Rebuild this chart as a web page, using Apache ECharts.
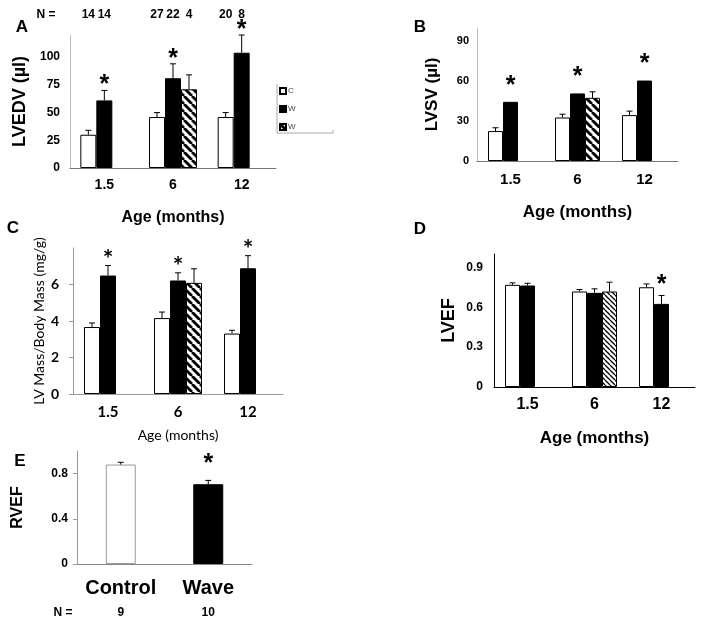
<!DOCTYPE html>
<html><head><meta charset="utf-8">
<script src="https://cdn.jsdelivr.net/npm/echarts@6/dist/echarts.min.js"></script>
<style>html,body{margin:0;padding:0;background:#fff}#c{width:704px;height:627px}</style>
</head><body><div id="c"></div>
<script>
// ---------------- DATA ----------------
const ageCats = ['1.5', '6', '12'];
const groupNames = ['Control', 'Wave', 'Wave 2'];

// A: LVEDV (µl)
const lvedvControl = [30, 46, 46];
const lvedvControlErr = [4, 4, 4];
const lvedvWave = [61, 81, 104];
const lvedvWaveErr = [9, 13, 16];
const lvedvWave2 = [null, 71, null];
const lvedvWave2Err = [null, 13, null];
const lvedvWaveSig = [true, true, true];
const nControl = [14, 27, 20];
const nWave = [14, 22, 8];
const nWave2 = [null, 4, null];

// B: LVSV (µl)
const lvsvControl = [22.5, 32.7, 34.5];
const lvsvControlErr = [2.5, 2.5, 3];
const lvsvWave = [44.5, 50.8, 60.5];
const lvsvWaveErr = [null, null, null];
const lvsvWave2 = [null, 47.5, null];
const lvsvWave2Err = [null, 4.5, null];
const lvsvWaveSig = [true, true, true];

// C: LV Mass/Body Mass (mg/g)
const massControl = [3.67, 4.16, 3.31];
const massControlErr = [0.22, 0.33, 0.18];
const massWave = [6.49, 6.22, 6.89];
const massWaveErr = [0.55, 0.42, 0.69];
const massWave2 = [null, 6.09, null];
const massWave2Err = [null, 0.77, null];
const massWaveSig = [true, true, true];

// D: LVEF
const lvefControl = [0.768, 0.718, 0.75];
const lvefControlErr = [0.015, 0.015, 0.025];
const lvefWave = [0.763, 0.708, 0.625];
const lvefWaveErr = [0.017, 0.03, 0.063];
const lvefWave2 = [null, 0.718, null];
const lvefWave2Err = [null, 0.07, null];
const lvefWaveSig = [false, false, true];

// E: RVEF
const rvefCats = ['Control', 'Wave'];
const rvefVals = [0.88, 0.706];
const rvefErr = [0.02, 0.034];
const rvefSig = [false, true];
const rvefN = [9, 10];

// ---------------- STYLE ----------------
const F = '"Liberation Sans", Arial, sans-serif';
const FC = 'Lato, "Open Sans", sans-serif';

function hatch(p, lw) {
  const c = document.createElement('canvas');
  c.width = p; c.height = p;
  const ctx = c.getContext('2d');
  ctx.fillStyle = '#fff'; ctx.fillRect(0, 0, p, p);
  ctx.strokeStyle = '#000'; ctx.lineWidth = lw;
  for (let k = -1; k <= 1; k++) {
    ctx.beginPath(); ctx.moveTo(k * p, 0); ctx.lineTo(k * p + p, p); ctx.stroke();
  }
  return c;
}
const hatchBig = hatch(8, 2.8);
const hatchSmall = hatch(5, 1.3);

function styleFor(kind, pattern) {
  if (kind === 0) return { color: '#fff', borderColor: '#000', borderWidth: 1 };
  if (kind === 1) return { color: '#000', borderColor: '#000', borderWidth: 1 };
  return { color: { image: pattern, repeat: 'repeat' }, borderColor: '#000', borderWidth: 1 };
}

const grids = [
  { left: 70, top: 35, width: 206, height: 133 },
  { left: 477, top: 28, width: 201, height: 133 },
  { left: 73, top: 248, width: 210, height: 146 },
  { left: 494, top: 254, width: 201, height: 133 },
  { left: 77, top: 451, width: 175, height: 113 }
];

const series = [];

function overlay(gi, items, nSlots, bw, opt) {
  return {
    type: 'custom', xAxisIndex: gi, yAxisIndex: gi, z: 10, silent: true, clip: false,
    data: items.map(it => [it.c, it.v]),
    renderItem: function (params, api) {
      const it = items[params.dataIndex];
      const base = api.coord([it.c, it.v]);
      const x = base[0] + (it.s - (nSlots - 1) / 2) * bw;
      const ch = [];
      let topY = base[1];
      if (it.e != null) {
        const t = api.coord([it.c, it.v + it.e])[1];
        ch.push({ type: 'line', shape: { x1: x, y1: base[1], x2: x, y2: t }, style: { stroke: '#000', lineWidth: 1 } });
        ch.push({ type: 'line', shape: { x1: x - 3, y1: t, x2: x + 3, y2: t }, style: { stroke: '#000', lineWidth: 1 } });
        topY = t;
      }
      if (it.sig) {
        ch.push({ type: 'text', style: { text: '*', x: x, y: topY - opt.starOffset + 6, align: 'center', verticalAlign: 'middle',
          fontSize: 25, fontWeight: 'bold', fontFamily: opt.font, fill: '#000' } });
      }
      if (it.n != null && opt.nOffset) {
        ch.push({ type: 'text', style: { text: String(it.n), x: x, y: params.coordSys.y - opt.nOffset, align: 'center', verticalAlign: 'middle',
          fontSize: 12, fontWeight: 'bold', fontFamily: F, fill: '#000' } });
      }
      return { type: 'group', children: ch };
    }
  };
}

function addPanel(gi, groups, bw, pattern, opt) {
  const items = [];
  groups.forEach((g, s) => {
    series.push({
      type: 'bar', name: groupNames[s], xAxisIndex: gi, yAxisIndex: gi,
      data: g.vals, barWidth: bw, barGap: '0%', itemStyle: styleFor(s, pattern), silent: true
    });
    g.vals.forEach((v, c) => {
      if (v == null) return;
      items.push({ c, s, v, e: g.errs[c], sig: g.sig ? g.sig[c] : false, n: g.n ? g.n[c] : null });
    });
  });
  series.push(overlay(gi, items, groups.length, bw, opt));
}

addPanel(0, [
  { vals: lvedvControl, errs: lvedvControlErr, n: nControl },
  { vals: lvedvWave, errs: lvedvWaveErr, n: nWave, sig: lvedvWaveSig },
  { vals: lvedvWave2, errs: lvedvWave2Err, n: nWave2 }
], 16, hatchBig, { starOffset: 11, font: F, nOffset: 20 });

addPanel(1, [
  { vals: lvsvControl, errs: lvsvControlErr },
  { vals: lvsvWave, errs: lvsvWaveErr, sig: lvsvWaveSig },
  { vals: lvsvWave2, errs: lvsvWave2Err }
], 15, hatchBig, { starOffset: 22, font: F });

addPanel(2, [
  { vals: massControl, errs: massControlErr },
  { vals: massWave, errs: massWaveErr, sig: massWaveSig },
  { vals: massWave2, errs: massWave2Err }
], 16, hatchBig, { starOffset: 12, font: FC });

addPanel(3, [
  { vals: lvefControl, errs: lvefControlErr },
  { vals: lvefWave, errs: lvefWaveErr, sig: lvefWaveSig },
  { vals: lvefWave2, errs: lvefWave2Err }
], 15, hatchSmall, { starOffset: 16, font: F });

// E
series.push({
  type: 'bar', name: 'RVEF', xAxisIndex: 4, yAxisIndex: 4, barWidth: 30, silent: true,
  data: rvefVals.map((v, i) => ({ value: v, itemStyle: i === 0 ? { color: '#fff', borderColor: '#999', borderWidth: 1 } : { color: '#000', borderColor: '#000', borderWidth: 1 } }))
});
series.push(overlay(4, rvefVals.map((v, i) => ({ c: i, s: 0, v, e: rvefErr[i], sig: rvefSig[i], n: null })), 1, 30, { starOffset: 22, font: F }));

function xAx(gi, cats, o) {
  return {
    type: 'category', gridIndex: gi, data: cats,
    axisTick: { show: false },
    axisLine: { lineStyle: { color: o.lineColor, width: 1 } },
    axisLabel: Object.assign({ interval: 0, color: '#000', fontWeight: 'bold', fontFamily: o.font, fontSize: o.fs, margin: o.margin }, o.label || {}),
    name: o.name, nameLocation: 'middle', nameGap: o.nameGap,
    nameTextStyle: { color: '#000', fontFamily: o.font, fontSize: o.nameFs, fontWeight: o.nameWeight || 'bold' }
  };
}
function yAx(gi, o) {
  return {
    type: 'value', gridIndex: gi, min: 0, max: o.max, interval: o.interval,
    splitLine: { show: false },
    axisLine: { show: true, lineStyle: { color: o.lineColor, width: 1 } },
    axisTick: { show: !!o.tick, length: 4, lineStyle: { color: o.lineColor } },
    axisLabel: { color: '#000', fontWeight: 'bold', fontFamily: o.font, fontSize: o.fs, margin: o.margin, showMaxLabel: false },
    name: o.name, nameLocation: 'middle', nameGap: o.nameGap, nameRotate: 90,
    nameTextStyle: { color: '#000', fontFamily: o.font, fontSize: o.nameFs, fontWeight: o.nameWeight || 'bold' }
  };
}

const xAxes = [
  xAx(0, ageCats, { lineColor: '#777', font: F, fs: 14, margin: 10, name: 'Age (months)', nameGap: 42, nameFs: 16 }),
  xAx(1, ageCats, { lineColor: '#777', font: F, fs: 15, margin: 11, name: 'Age (months)', nameGap: 43, nameFs: 17 }),
  xAx(2, ageCats, { lineColor: '#999', font: FC, fs: 15, margin: 11, name: 'Age (months)', nameGap: 34, nameFs: 14, nameWeight: 'normal' }),
  xAx(3, ageCats, { lineColor: '#000', font: F, fs: 16, margin: 10, name: 'Age (months)', nameGap: 43, nameFs: 17 }),
  xAx(4, rvefCats, { lineColor: '#888', font: F, fs: 20, margin: 12, label: {
    formatter: function (v, i) { return '{c|' + v + '}\n{n|' + rvefN[i] + '}'; },
    rich: { c: { fontSize: 20, fontWeight: 'bold', fontFamily: F, color: '#000', lineHeight: 24 },
            n: { fontSize: 12, fontWeight: 'bold', fontFamily: F, color: '#000', lineHeight: 26 } } } })
];
const yAxes = [
  yAx(0, { max: 120, interval: 25, lineColor: '#bbb', font: F, fs: 12, margin: 10, name: 'LVEDV (µl)', nameGap: 41, nameFs: 18 }),
  yAx(1, { max: 100, interval: 30, lineColor: '#bbb', font: F, fs: 11, margin: 8, name: 'LVSV (µl)', nameGap: 36, nameFs: 17 }),
  yAx(2, { max: 8, interval: 2, lineColor: '#999', tick: true, font: FC, fs: 14, margin: 14, name: 'LV Mass/Body Mass (mg/g)', nameGap: 26, nameFs: 14, nameWeight: 'normal' }),
  yAx(3, { max: 1, interval: 0.3, lineColor: '#000', font: F, fs: 12, margin: 11, name: 'LVEF', nameGap: 36, nameFs: 18 }),
  yAx(4, { max: 1, interval: 0.4, lineColor: '#999', tick: true, font: F, fs: 12, margin: 9, name: 'RVEF', nameGap: 51, nameFs: 16 })
];

const chart = echarts.init(document.getElementById('c'), null, { renderer: 'canvas' });
chart.setOption({
  animation: false,
  backgroundColor: '#fff',
  grid: grids,
  xAxis: xAxes,
  yAxis: yAxes,
  legend: {
    data: groupNames, orient: 'vertical', left: 279, top: 87, itemWidth: 6, itemHeight: 6, itemGap: 10,
    padding: 0, selectedMode: false, icon: 'rect',
    formatter: function (n) { return n.charAt(0); },
    textStyle: { fontSize: 8, color: '#444', fontFamily: F, padding: [0, 0, 0, -3] }
  },
  graphic: [
    { type: 'polyline', silent: true, shape: { points: [[277, 84], [277, 133], [333, 133], [333, 130]] }, style: { stroke: '#aaa', lineWidth: 1, fill: null } },
    { type: 'text', x: 22, y: 27, silent: true, style: { text: 'A', fontSize: 17, fontWeight: 'bold', fontFamily: F, fill: '#000', align: 'center', verticalAlign: 'middle' } },
    { type: 'text', x: 420, y: 27, silent: true, style: { text: 'B', fontSize: 17, fontWeight: 'bold', fontFamily: F, fill: '#000', align: 'center', verticalAlign: 'middle' } },
    { type: 'text', x: 13, y: 228, silent: true, style: { text: 'C', fontSize: 17, fontWeight: 'bold', fontFamily: F, fill: '#000', align: 'center', verticalAlign: 'middle' } },
    { type: 'text', x: 420, y: 229, silent: true, style: { text: 'D', fontSize: 17, fontWeight: 'bold', fontFamily: F, fill: '#000', align: 'center', verticalAlign: 'middle' } },
    { type: 'text', x: 20, y: 461, silent: true, style: { text: 'E', fontSize: 17, fontWeight: 'bold', fontFamily: F, fill: '#000', align: 'center', verticalAlign: 'middle' } },
    { type: 'text', x: 46, y: 15, silent: true, style: { text: 'N =', fontSize: 12, fontWeight: 'bold', fontFamily: F, fill: '#000', align: 'center', verticalAlign: 'middle' } },
    { type: 'text', x: 63, y: 613, silent: true, style: { text: 'N =', fontSize: 12, fontWeight: 'bold', fontFamily: F, fill: '#000', align: 'center', verticalAlign: 'middle' } }
  ],
  series: series
});
</script></body></html>
